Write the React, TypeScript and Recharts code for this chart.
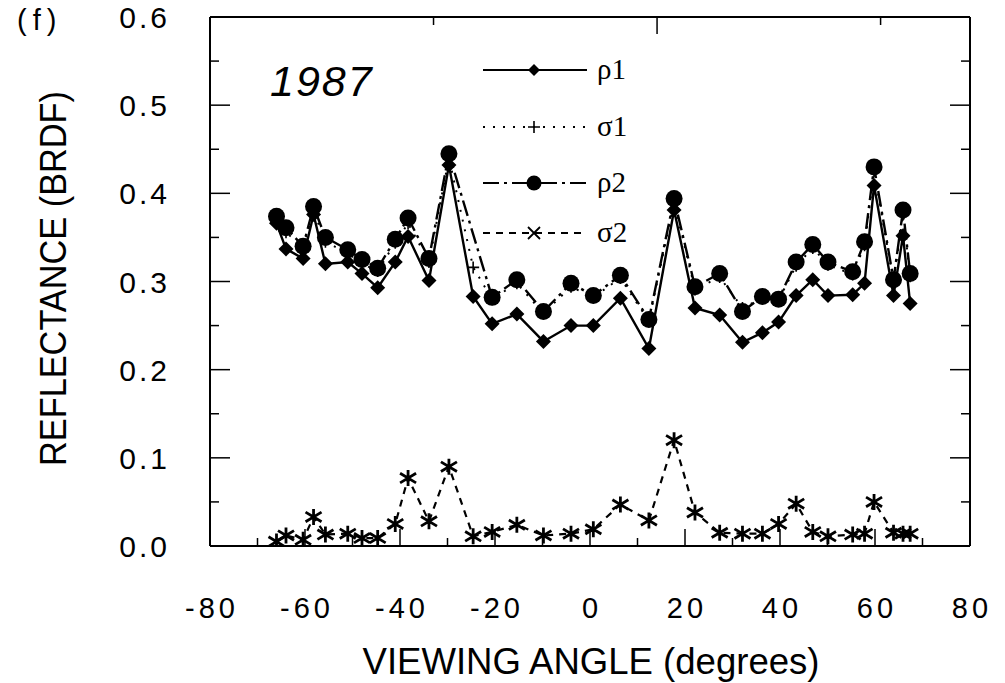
import React from 'react';
import { LineChart, Line, XAxis, YAxis, Legend } from 'recharts';

// viewing angles shared by all four series (degrees)
const angles = [
  -66.0, -64.0, -60.4, -58.2, -55.7, -51.0, -48.0, -44.7, -41.0, -38.3, -33.9, -29.7,
  -24.6, -20.6, -15.4, -9.8, -4.0, 0.7, 6.4, 12.4, 17.7, 22.1, 27.3, 32.1,
  36.3, 39.7, 43.4, 46.9, 50.1, 55.3, 57.8, 59.8, 63.9, 65.9, 67.4,
];

const rho1 = [
  0.366, 0.337, 0.326, 0.376, 0.320, 0.322, 0.309, 0.293, 0.322, 0.351, 0.301, 0.432,
  0.283, 0.252, 0.263, 0.232, 0.250, 0.250, 0.281, 0.224, 0.381, 0.270, 0.262, 0.231,
  0.242, 0.254, 0.284, 0.302, 0.284, 0.285, 0.298, 0.409, 0.284, 0.352, 0.275,
];

const sigma1 = [
  0.370, 0.356, 0.338, 0.380, 0.345, 0.332, 0.320, 0.312, 0.344, 0.366, 0.322, 0.440,
  0.316, 0.280, 0.298, 0.264, 0.294, 0.282, 0.304, 0.255, 0.390, 0.291, 0.305, 0.270,
  0.281, 0.279, 0.318, 0.338, 0.319, 0.308, 0.341, 0.425, 0.300, 0.376, 0.306,
];

const rho2 = [
  0.374, 0.361, 0.340, 0.385, 0.350, 0.336, 0.325, 0.315, 0.348, 0.372, 0.326, 0.445,
  null, 0.282, 0.302, 0.266, 0.298, 0.284, 0.307, 0.257, 0.394, 0.294, 0.309, 0.266,
  0.283, 0.280, 0.322, 0.342, 0.322, 0.311, 0.345, 0.430, 0.302, 0.381, 0.309,
];

const sigma2 = [
  0.005, 0.012, 0.007, 0.033, 0.013, 0.014, 0.009, 0.009, 0.025, 0.077, 0.028, 0.090,
  0.011, 0.016, 0.024, 0.012, 0.014, 0.019, 0.047, 0.029, 0.120, 0.038, 0.015, 0.014,
  0.014, 0.025, 0.048, 0.016, 0.011, 0.013, 0.014, 0.050, 0.015, 0.014, 0.014,
];

const xTicks = [-80, -70, -60, -50, -40, -30, -20, -10, 0, 10, 20, 30, 40, 50, 60, 70, 80];
const yTicks = [0, 0.05, 0.1, 0.15, 0.2, 0.25, 0.3, 0.35, 0.4, 0.45, 0.5, 0.55, 0.6];
const legendOrder = ['rho1', 'sigma1', 'rho2', 'sigma2'];

const data = angles.map((a, i) => ({
  angle: a,
  rho1: rho1[i],
  sigma1: sigma1[i],
  rho2: rho2[i],
  sigma2: sigma2[i],
}));

const FONT = "'Liberation Sans', Arial, Helvetica, sans-serif";
const SERIF = "'Liberation Serif', 'Times New Roman', serif";

const seriesStyle: Record<string, { label: string; dash?: string; marker: string }> = {
  rho1: { label: 'ρ1', marker: 'diamond' },
  sigma1: { label: 'σ1', dash: '2 8', marker: 'plus' },
  rho2: { label: 'ρ2', dash: '16 5 3 5', marker: 'circle' },
  sigma2: { label: 'σ2', dash: '7 6', marker: 'star' },
};

const Marker = ({ kind, cx, cy, legend }: { kind: string; cx: number; cy: number; legend?: boolean }) => {
  if (kind === 'diamond') {
    const s = legend ? 6 : 7.5;
    return <path d={`M${cx},${cy - s}L${cx + s},${cy}L${cx},${cy + s}L${cx - s},${cy}Z`} fill="#000" />;
  }
  if (kind === 'circle') {
    return <circle cx={cx} cy={cy} r={legend ? 7.5 : 8.5} fill="#000" />;
  }
  if (kind === 'plus') {
    const s = 6;
    return <path d={`M${cx - s},${cy}H${cx + s}M${cx},${cy - s}V${cy + s}`} stroke="#000" strokeWidth={1.6} />;
  }
  if (legend) {
    const s = 6;
    return <path d={`M${cx - s},${cy - s}L${cx + s},${cy + s}M${cx - s},${cy + s}L${cx + s},${cy - s}`} stroke="#000" strokeWidth={1.8} />;
  }
  const s = 8;
  return (
    <path
      d={`M${cx - s},${cy - s * 0.6}L${cx + s},${cy + s * 0.6}M${cx - s},${cy + s * 0.6}L${cx + s},${cy - s * 0.6}M${cx},${cy - s}V${cy + s}`}
      stroke="#000"
      strokeWidth={2.8}
    />
  );
};

const dotFor = (kind: string) => (p: any) => {
  if (p.cx == null || p.cy == null || p.value == null) return <g key={`e${kind}${p.index}`} />;
  return (
    <g key={`m${kind}${p.index}`}>
      <Marker kind={kind} cx={p.cx} cy={p.cy} />
    </g>
  );
};

const renderLegend = (props: any) => {
  const items = legendOrder.filter((k) => (props.payload || []).some((e: any) => e.dataKey === k));
  return (
    <svg width={170} height={220} style={{ display: 'block' }}>
      {items.map((k: string, i: number) => {
        const st = seriesStyle[k];
        const y = [25, 82, 138, 188][i];
        return (
          <g key={k}>
            <line x1={8} y1={y} x2={112} y2={y} stroke="#000" strokeWidth={2} strokeDasharray={st.dash} />
            <Marker kind={st.marker} cx={59} cy={y} legend />
            <text x={122} y={y + 9} fontFamily={SERIF} fontSize={29} fill="#000">
              {st.label}
            </text>
          </g>
        );
      })}
    </svg>
  );
};

const BottomTick = (props: any) => {
  const { x, y, payload } = props;
  const v = payload.value;
  const major = v % 20 === 0;
  const edge = v === -80 || v === 80;
  return (
    <g>
      {!edge && <line x1={x} y1={y} x2={x} y2={y - (major ? 17 : 8)} stroke="#000" strokeWidth={1.5} />}
      {major && (
        <text x={x + 2} y={y + 72} textAnchor="middle" fontFamily={FONT} fontSize={29} letterSpacing={4} fill="#000">
          {v}
        </text>
      )}
    </g>
  );
};

const TopTick = (props: any) => {
  const { x, y, payload } = props;
  const v = payload.value;
  if (v === -80 || v === 80) return <g />;
  const major = v % 20 === 0;
  return <line x1={x} y1={y} x2={x} y2={y + (major ? 17 : 8)} stroke="#000" strokeWidth={1.5} />;
};

const LeftTick = (props: any) => {
  const { x, y, payload } = props;
  const v = payload.value;
  const major = Math.round(v * 100) % 10 === 0;
  const edge = v <= 0.001 || v >= 0.599;
  return (
    <g>
      {!edge && <line x1={x} y1={y} x2={x + (major ? 20 : 9)} y2={y} stroke="#000" strokeWidth={1.5} />}
      {major && (
        <text x={x - 40} y={y + 11} textAnchor="end" fontFamily={FONT} fontSize={30} letterSpacing={3} fill="#000">
          {v.toFixed(1)}
        </text>
      )}
    </g>
  );
};

const RightTick = (props: any) => {
  const { x, y, payload } = props;
  const v = payload.value;
  if (v <= 0.001 || v >= 0.599) return <g />;
  const major = Math.round(v * 100) % 10 === 0;
  return <line x1={x} y1={y} x2={x - (major ? 20 : 9)} y2={y} stroke="#000" strokeWidth={1.5} />;
};

const renderXTitle = (props: any) => {
  const vb = props.viewBox || { x: 210, y: 546, width: 760, height: 1 };
  return (
    <text
      x={vb.x + vb.width / 2 + 1}
      y={vb.y + 128}
      textAnchor="middle"
      fontFamily={FONT}
      fontSize={36}
      textLength={457}
      lengthAdjust="spacingAndGlyphs"
      fill="#000"
    >
      VIEWING ANGLE (degrees)
    </text>
  );
};

const renderYTitle = (props: any) => {
  const vb = props.viewBox || { x: 209, y: 17, width: 1, height: 529 };
  const x = vb.x - 143;
  const y = vb.y + vb.height / 2 - 3;
  return (
    <text
      x={x}
      y={y}
      transform={`rotate(-90, ${x}, ${y})`}
      textAnchor="middle"
      fontFamily={FONT}
      fontSize={37}
      textLength={375}
      lengthAdjust="spacingAndGlyphs"
      fill="#000"
    >
      REFLECTANCE (BRDF)
    </text>
  );
};

export default function App() {
  return (
    <div style={{ position: 'absolute', left: 0, top: 0, width: 1005, height: 683, background: '#fff' }}>
      <LineChart width={1005} height={683} data={data} margin={{ top: 16, right: 34, bottom: 136, left: 209 }}>
        <XAxis
          xAxisId="x"
          dataKey="angle"
          type="number"
          domain={[-80, 80]}
          allowDataOverflow
          ticks={xTicks}
          interval={0}
          height={1}
          tickSize={0}
          tickMargin={0}
          tickLine={false}
          axisLine={{ stroke: '#000', strokeWidth: 2 }}
          tick={BottomTick}
          label={renderXTitle}
        />
        <XAxis
          xAxisId="xt"
          orientation="top"
          type="number"
          domain={[-80, 80]}
          allowDataOverflow
          ticks={xTicks}
          interval={0}
          height={1}
          tickSize={0}
          tickMargin={0}
          tickLine={false}
          axisLine={{ stroke: '#000', strokeWidth: 2 }}
          tick={TopTick}
        />
        <YAxis
          yAxisId="y"
          type="number"
          domain={[0, 0.6]}
          allowDataOverflow
          ticks={yTicks}
          interval={0}
          width={1}
          tickSize={0}
          tickMargin={0}
          tickLine={false}
          axisLine={{ stroke: '#000', strokeWidth: 2 }}
          tick={LeftTick}
          label={renderYTitle}
        />
        <YAxis
          yAxisId="yr"
          orientation="right"
          type="number"
          domain={[0, 0.6]}
          allowDataOverflow
          ticks={yTicks}
          interval={0}
          width={1}
          tickSize={0}
          tickMargin={0}
          tickLine={false}
          axisLine={{ stroke: '#000', strokeWidth: 2 }}
          tick={RightTick}
        />
        <Legend
          content={renderLegend}
          layout="vertical"
          align="center"
          verticalAlign="middle"
          wrapperStyle={{ left: 475, top: 45, width: 170, height: 220 }}
        />
        <Line
          xAxisId="x"
          yAxisId="y"
          dataKey="sigma1"
          name="σ1"
          stroke="#000"
          strokeWidth={2}
          strokeDasharray="2 8"
          dot={dotFor('plus')}
          activeDot={false}
          isAnimationActive={false}
        />
        <Line
          xAxisId="x"
          yAxisId="y"
          dataKey="rho1"
          name="ρ1"
          stroke="#000"
          strokeWidth={2.4}
          dot={dotFor('diamond')}
          activeDot={false}
          isAnimationActive={false}
        />
        <Line
          xAxisId="x"
          yAxisId="y"
          dataKey="rho2"
          name="ρ2"
          stroke="#000"
          strokeWidth={2.4}
          strokeDasharray="16 5 3 5"
          connectNulls
          dot={dotFor('circle')}
          activeDot={false}
          isAnimationActive={false}
        />
        <Line
          xAxisId="x"
          yAxisId="y"
          dataKey="sigma2"
          name="σ2"
          stroke="#000"
          strokeWidth={2.2}
          strokeDasharray="7 6"
          dot={dotFor('star')}
          activeDot={false}
          isAnimationActive={false}
        />
      </LineChart>
      <div
        style={{
          position: 'absolute',
          left: 17,
          top: 6,
          fontFamily: FONT,
          fontSize: 29,
          lineHeight: 1,
          letterSpacing: 6,
          color: '#000',
        }}
      >
        (f)
      </div>
      <div
        style={{
          position: 'absolute',
          left: 270,
          top: 60,
          fontFamily: FONT,
          fontSize: 43,
          fontStyle: 'italic',
          lineHeight: 1,
          letterSpacing: 2,
          color: '#000',
        }}
      >
        1987
      </div>
    </div>
  );
}
